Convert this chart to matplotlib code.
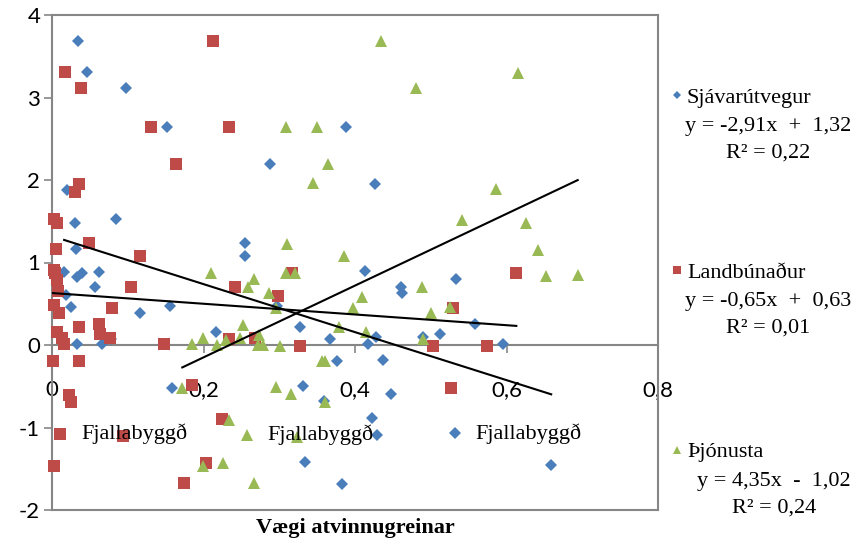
import matplotlib
matplotlib.use('Agg')
import matplotlib.pyplot as plt
from matplotlib.lines import Line2D

plt.rcParams['axes.unicode_minus'] = False

# ---------------- data ----------------
series_names = ['Sjávarútvegur', 'Landbúnaður', 'Þjónusta']

blue_x = [0.034, 0.046, 0.098, 0.020, 0.152, 0.288, 0.388, 0.426, 0.030, 0.085, 0.032, 0.016, 0.033,
          0.040, 0.062, 0.057, 0.018, 0.025, 0.116, 0.156, 0.033, 0.066, 0.078, 0.216, 0.255, 0.255,
          0.413, 0.461, 0.462, 0.533, 0.297, 0.327, 0.367, 0.428, 0.417, 0.490, 0.512, 0.376, 0.437,
          0.558, 0.596, 0.158, 0.331, 0.359, 0.448, 0.422, 0.429, 0.334, 0.383, 0.532, 0.659]
blue_y = [3.69, 3.31, 3.12, 1.88, 2.64, 2.19, 2.64, 1.95, 1.48, 1.53, 1.16, 0.88, 0.82,
          0.87, 0.88, 0.70, 0.61, 0.46, 0.39, 0.47, 0.01, 0.01, 0.07, 0.16, 1.24, 1.08,
          0.90, 0.70, 0.63, 0.80, 0.47, 0.22, 0.07, 0.10, 0.01, 0.10, 0.13, -0.19, -0.18,
          0.26, 0.01, -0.52, -0.50, -0.68, -0.59, -0.88, -1.09, -1.42, -1.68, -1.07, -1.46]

red_x = [0.213, 0.017, 0.038, 0.131, 0.234, 0.164, 0.036, 0.030, 0.003, 0.006, 0.049, 0.005, 0.116,
         0.003, 0.004, 0.006, 0.104, 0.008, 0.242, 0.003, 0.009, 0.079, 0.036, 0.062, 0.063, 0.077,
         0.007, 0.013, 0.016, 0.148, 0.001, 0.036, 0.234, 0.268, 0.317, 0.298, 0.327, 0.503, 0.530,
         0.613, 0.574, 0.023, 0.025, 0.011, 0.003, 0.094, 0.224, 0.203, 0.174, 0.185, 0.527]
red_y = [3.69, 3.31, 3.12, 2.64, 2.64, 2.19, 1.95, 1.86, 1.53, 1.48, 1.24, 1.16, 1.08,
         0.91, 0.87, 0.79, 0.70, 0.65, 0.70, 0.48, 0.39, 0.45, 0.22, 0.25, 0.13, 0.08,
         0.16, 0.08, 0.01, 0.01, -0.19, -0.19, 0.07, 0.08, 0.87, 0.60, -0.01, -0.01, 0.45,
         0.87, -0.01, -0.61, -0.69, -1.08, -1.47, -1.10, -0.90, -1.43, -1.67, -0.48, -0.52]

green_x = [0.434, 0.480, 0.309, 0.350, 0.365, 0.345, 0.615, 0.586, 0.541, 0.626, 0.642, 0.652, 0.694,
           0.525, 0.310, 0.385, 0.309, 0.321, 0.267, 0.259, 0.286, 0.488, 0.409, 0.397, 0.296, 0.500,
           0.252, 0.379, 0.414, 0.490, 0.248, 0.273, 0.272, 0.278, 0.301, 0.356, 0.360, 0.210, 0.185,
           0.199, 0.218, 0.230, 0.172, 0.234, 0.257, 0.199, 0.226, 0.267, 0.296, 0.315, 0.360, 0.323]
green_y = [3.69, 3.12, 2.64, 2.64, 2.19, 1.96, 3.30, 1.89, 1.52, 1.48, 1.15, 0.84, 0.85,
           0.46, 1.22, 1.08, 0.87, 0.87, 0.80, 0.70, 0.63, 0.70, 0.58, 0.45, 0.45, 0.39,
           0.24, 0.22, 0.16, 0.07, 0.08, 0.12, 0.00, 0.00, -0.01, -0.19, -0.19, 0.87, 0.01,
           0.08, 0.00, 0.06, -0.52, -0.91, -1.09, -1.47, -1.43, -1.67, -0.51, -0.59, -0.69, -1.11]

# index of the point labelled "Fjallabyggð" in each series
label_idx = [49, 43, 44]
point_label = 'Fjallabyggð'

# trend lines (as shown in the chart)
slopes = [-2.91, -0.65, 4.35]
intercepts = [1.32, 0.63, -1.02]
eq_texts = ['y = -2,91x  +  1,32', 'y = -0,65x  +  0,63', 'y = 4,35x  -  1,02']
r2_texts = ['R² = 0,22', 'R² = 0,01', 'R² = 0,24']

x_ticks = [0, 0.2, 0.4, 0.6, 0.8]
x_tick_labels = ['0', '0,2', '0,4', '0,6', '0,8']
y_ticks = [-2, -1, 0, 1, 2, 3, 4]
y_tick_labels = ['-2', '-1', '0', '1', '2', '3', '4']
x_title = 'Vægi atvinnugreinar'

# ---------------- style ----------------
colors = ['#4A7EBB', '#BE4B48', '#98B954']
markers = ['D', 's', '^']
msizes = [6.3, 8.4, 8.2]
leg_msizes = [4.5, 6.0, 6.0]
gray = '#868686'
serif = 'Liberation Serif'
sans = 'Lato'

W, H = 857, 544
fig = plt.figure(figsize=(W / 100, H / 100), dpi=100)
L, R, T, B = 52, 658, 15, 510
ax = fig.add_axes([L / W, 1 - B / H, (R - L) / W, (B - T) / H])
ax.set_xlim(0, 0.8)
ax.set_ylim(-2, 4)

xs = [blue_x, red_x, green_x]
ys = [blue_y, red_y, green_y]
for i in range(3):
    ax.plot(xs[i], ys[i], linestyle='none', marker=markers[i], markersize=msizes[i],
            color=colors[i], markeredgewidth=0, zorder=3 + i * 0.1, clip_on=False)

for i in range(3):
    x0, x1 = min(xs[i]), max(xs[i])
    ax.plot([x0, x1], [slopes[i] * x0 + intercepts[i], slopes[i] * x1 + intercepts[i]],
            color='black', lw=1.5, zorder=5)

for i in range(3):
    k = label_idx[i]
    ax.annotate(point_label, (xs[i][k], ys[i][k]), xytext=(15, 0), textcoords='offset points',
                ha='left', va='center', fontsize=16, family=serif, color='black', zorder=6)

# spines
for s in ['left', 'right', 'top', 'bottom']:
    ax.spines[s].set_color(gray)
    ax.spines[s].set_linewidth(1.5)
ax.spines['bottom'].set_position(('data', 0))
ax.plot([0, 1], [0, 0], transform=ax.transAxes, color=gray, lw=1.5, clip_on=False, zorder=2)

ax.set_xticks(x_ticks)
ax.set_xticklabels(x_tick_labels)
ax.set_yticks(y_ticks)
ax.set_yticklabels(y_tick_labels)
ax.tick_params(axis='both', direction='out', color=gray, width=1.2, length=5.5,
               labelsize=16, labelcolor='black')
ax.tick_params(axis='x', pad=20)
ax.tick_params(axis='y', pad=3)
for lab in ax.get_xticklabels() + ax.get_yticklabels():
    lab.set_family(sans)

fig.text((L + R) / 2 / W, 1 - 528 / H, x_title, ha='center', va='center',
         fontsize=16, fontweight='bold', family=serif)

# legend (manual)
leg_rows = [95, 270, 450]
for i in range(3):
    py = leg_rows[i]
    fig.add_artist(Line2D([677 / W], [1 - py / H], marker=markers[i], markersize=leg_msizes[i],
                          color=colors[i], markeredgewidth=0, linestyle='none',
                          transform=fig.transFigure))
    fig.text(687 / W, 1 - (py + 3) / H, series_names[i], ha='left', va='center',
             fontsize=16, family=serif)
    fig.text(851 / W, 1 - (py + 45) / H, eq_texts[i] + '\n' + r2_texts[i], ha='right',
             va='center', multialignment='center', fontsize=16, family=serif, linespacing=1.55)

fig.savefig('out.png', dpi=100)
